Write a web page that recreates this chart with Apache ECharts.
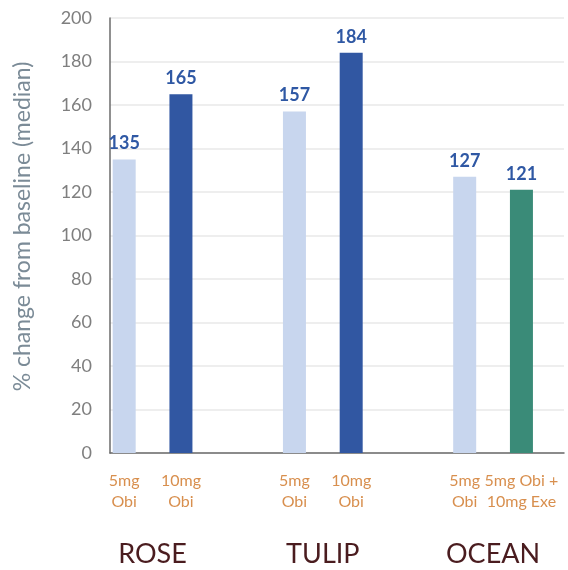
<!DOCTYPE html>
<html>
<head>
<meta charset="utf-8">
<script src="https://cdn.jsdelivr.net/npm/echarts@6/dist/echarts.min.js"></script>
<style>html,body{margin:0;padding:0;background:#fff;}#c{width:568px;height:570px;}</style>
</head>
<body>
<div id="c"></div>
<script>
// Data
var doseLabels = ['5mg\nObi', '10mg\nObi', '5mg\nObi', '10mg\nObi', '5mg\nObi', '5mg Obi +\n10mg Exe'];
var values = [135, 165, 157, 184, 127, 121];
var barKinds = ['light', 'dark', 'light', 'dark', 'light', 'teal'];
var studies = ['ROSE', 'TULIP', 'OCEAN'];
var yTicks = [0, 200, 20];

// Layout: slot grid (16 half-width slots), bars and group labels placed on slots
var SLOTS = 16;
var barSlots = [0, 2, 6, 8, 12, 14];
var studySlots = [1, 7, 13];
var colors = { light: '#c8d6ee', dark: '#3157a2', teal: '#3a8b78' };

var cats = [], groupCats = [], data = [];
for (var i = 0; i < SLOTS; i++) { cats.push('s' + i); groupCats.push('g' + i); data.push(null); }
var labelMap = {}, groupMap = {};
barSlots.forEach(function (s, k) {
  labelMap['s' + s] = doseLabels[k];
  data[s] = { value: values[k], itemStyle: { color: colors[barKinds[k]] } };
});
studySlots.forEach(function (s, k) { groupMap['g' + s] = studies[k]; });

var chart = echarts.init(document.getElementById('c'));
chart.setOption({
  animation: false,
  textStyle: { fontFamily: 'Lato' },
  grid: { left: 110, right: 4, top: 18, bottom: 117, containLabel: false },
  xAxis: [{
    type: 'category', data: cats, position: 'bottom',
    axisLine: { lineStyle: { color: '#6b6b6b', width: 1.5 } },
    axisTick: { show: false },
    axisLabel: {
      interval: 0, color: '#d88f4e', fontSize: 16, lineHeight: 21, margin: 17,
      fontFamily: 'Lato',
      formatter: function (v) { return labelMap[v] || ''; }
    }
  }, {
    type: 'category', data: groupCats, position: 'bottom', offset: 76,
    axisLine: { show: false }, axisTick: { show: false },
    axisLabel: {
      interval: 0, color: '#4a1c1f', fontSize: 27, margin: 12, fontFamily: 'Lato',
      formatter: function (v) { return groupMap[v] || ''; }
    }
  }],
  yAxis: {
    type: 'value', min: yTicks[0], max: yTicks[1], interval: yTicks[2],
    name: '% change from baseline (median)', nameLocation: 'middle', nameGap: 76,
    nameTextStyle: { color: '#7b8b97', fontSize: 23, fontFamily: 'Lato', padding: [0, 0, 0, 18] },
    axisLine: { show: true, lineStyle: { color: '#6b6b6b', width: 1.5 } },
    axisTick: { show: false },
    axisLabel: { color: '#7f7f7f', fontSize: 18, margin: 18, fontFamily: 'Lato' },
    splitLine: { lineStyle: { color: '#e8e8e8', width: 1.5 } }
  },
  series: [{
    type: 'bar', xAxisIndex: 0, data: data, barWidth: 23,
    label: { show: true, position: 'top', distance: 7, color: '#2f58a4', fontSize: 18, fontWeight: 'bold', fontFamily: 'Lato' }
  }]
});
</script>
</body>
</html>
